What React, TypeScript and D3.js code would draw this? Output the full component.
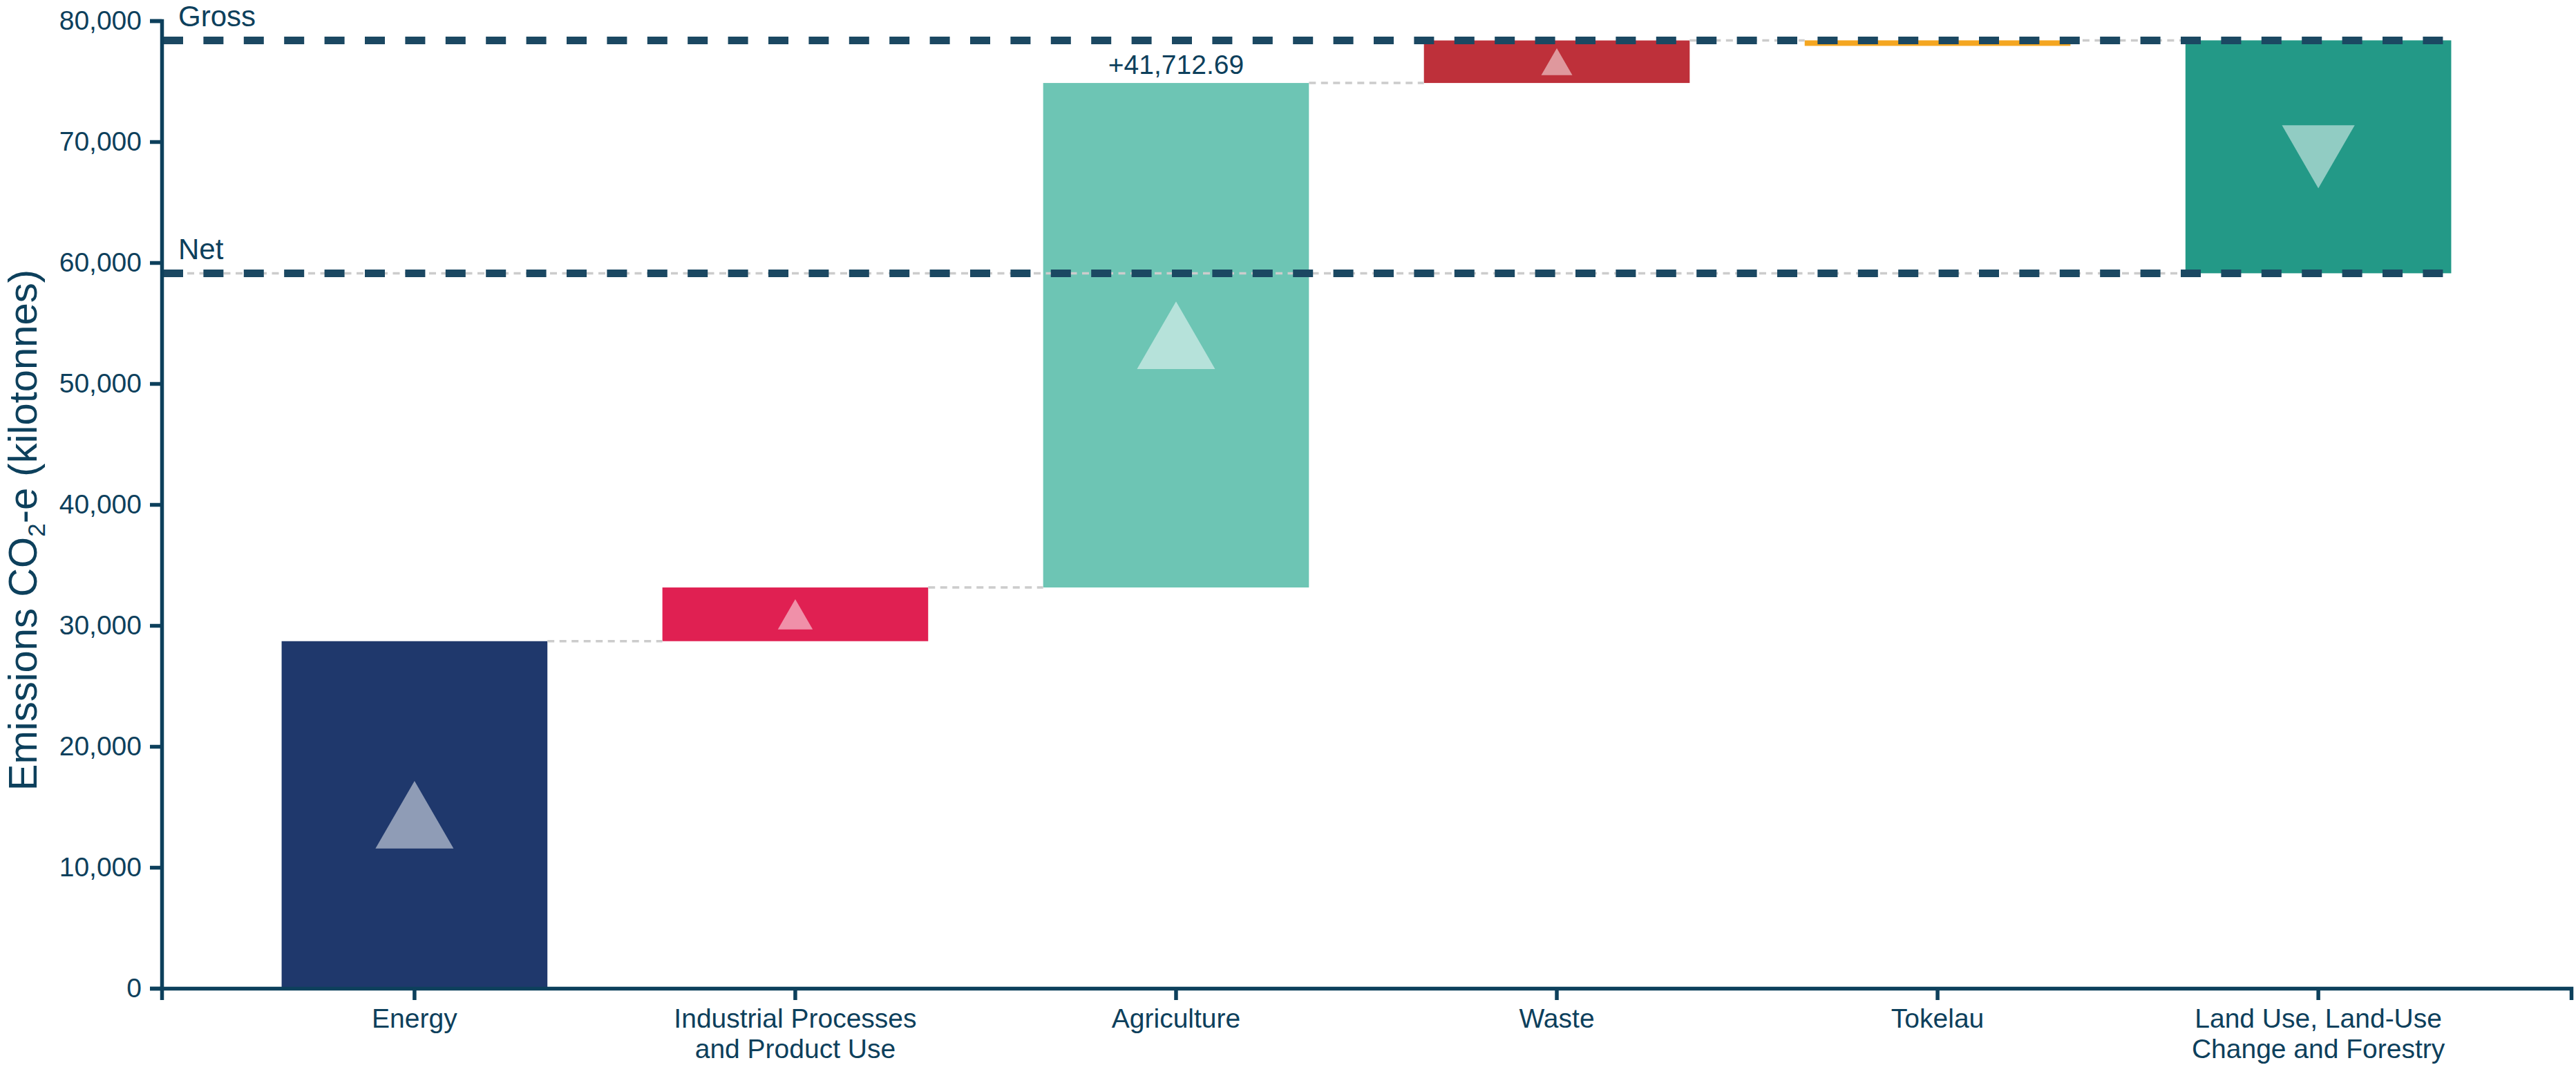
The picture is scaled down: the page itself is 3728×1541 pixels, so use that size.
import React, { useEffect, useRef } from "react";
import * as d3 from "d3";

// ---- data ----
const categories = [
  "Energy",
  "Industrial Processes and Product Use",
  "Agriculture",
  "Waste",
  "Tokelau",
  "Land Use, Land-Use Change and Forestry",
];
const categoryLines: string[][] = [
  ["Energy"],
  ["Industrial Processes", "and Product Use"],
  ["Agriculture"],
  ["Waste"],
  ["Tokelau"],
  ["Land Use, Land-Use", "Change and Forestry"],
];
const values = [28700, 4440, 41712.69, 3517, 8, -19258];
const barColors = ["#1f386c", "#e02052", "#6dc5b4", "#be303a", "#f4a621", "#239987"];
const yTicks = [0, 10000, 20000, 30000, 40000, 50000, 60000, 70000, 80000];
const labelledCategory = "Agriculture";
const refLineLabels = ["Gross", "Net"];

const W = 3728;
const H = 1541;
const INK = "#0d405c";
const DASH = "#1b4862";
const FONT = "'Liberation Sans', Arial, sans-serif";

export default function App() {
  const ref = useRef<SVGSVGElement>(null);

  useEffect(() => {
    const svg = d3.select(ref.current);
    svg.selectAll("*").remove();

    const x = d3
      .scaleBand<string>()
      .domain(categories)
      .range([234, 3721])
      .paddingInner(0.302)
      .paddingOuter(0.315);
    const y = d3.scaleLinear().domain([0, 80000]).range([1430, 30]);
    const side = d3.scaleSqrt().domain([0, 22200]).range([0, 113]).clamp(true);
    const bw = x.bandwidth();

    let run = 0;
    const steps = values.map((v, i) => {
      const start = run;
      run += v;
      return { cat: categories[i], v, start, end: run, color: barColors[i] };
    });
    const gross = steps.filter((s) => s.v > 0).reduce((a, s) => a + s.v, 0);
    const net = run;

    // bars
    svg
      .append("g")
      .selectAll("rect")
      .data(steps)
      .join("rect")
      .attr("x", (d) => x(d.cat)!)
      .attr("y", (d) => y(Math.max(d.start, d.end)))
      .attr("width", bw)
      .attr("height", (d) => Math.max(Math.abs(y(d.start) - y(d.end)), 8))
      .attr("fill", (d) => d.color);

    // grey connectors
    const conn = svg.append("g").attr("stroke", "#cccccc").attr("stroke-width", 3.5).attr("stroke-dasharray", "10 7.5");
    steps.slice(0, -1).forEach((s, i) => {
      conn
        .append("line")
        .attr("x1", x(s.cat)! + bw)
        .attr("x2", x(steps[i + 1].cat)!)
        .attr("y1", y(s.end))
        .attr("y2", y(s.end));
    });
    conn
      .append("line")
      .attr("x1", 236)
      .attr("x2", x(steps[steps.length - 1].cat)!)
      .attr("y1", y(net))
      .attr("y2", y(net));

    // triangles
    svg
      .append("g")
      .selectAll("path")
      .data(steps.filter((s) => Math.abs(s.v) > 100))
      .join("path")
      .attr("fill", "#ffffff")
      .attr("fill-opacity", 0.5)
      .attr("d", (d) => {
        const s = side(Math.abs(d.v));
        const h = (s * Math.sqrt(3)) / 2;
        const cx = x(d.cat)! + bw / 2;
        const cy = (y(d.start) + y(d.end)) / 2;
        const p = d3.path();
        if (d.v >= 0) {
          p.moveTo(cx, cy - h / 2);
          p.lineTo(cx + s / 2, cy + h / 2);
          p.lineTo(cx - s / 2, cy + h / 2);
        } else {
          p.moveTo(cx - s / 2, cy - h / 2);
          p.lineTo(cx + s / 2, cy - h / 2);
          p.lineTo(cx, cy + h / 2);
        }
        p.closePath();
        return p.toString();
      });

    // gross / net reference lines
    const lastRight = x(steps[steps.length - 1].cat)! + bw;
    [gross, net].forEach((v, i) => {
      svg
        .append("line")
        .attr("x1", 236)
        .attr("x2", lastRight)
        .attr("y1", y(v))
        .attr("y2", y(v))
        .attr("stroke", DASH)
        .attr("stroke-width", 11)
        .attr("stroke-dasharray", "29 29.4");
      svg
        .append("text")
        .attr("x", 258)
        .attr("y", y(v) - 20)
        .attr("font-family", FONT)
        .attr("font-size", 42)
        .attr("fill", INK)
        .text(refLineLabels[i]);
    });

    // value label
    const ls = steps.find((s) => s.cat === labelledCategory)!;
    svg
      .append("text")
      .attr("x", x(ls.cat)! + bw / 2)
      .attr("y", y(Math.max(ls.start, ls.end)) - 13)
      .attr("text-anchor", "middle")
      .attr("font-family", FONT)
      .attr("font-size", 39)
      .attr("fill", INK)
      .text(d3.format("+,.2f")(ls.v));

    // axes
    const yg = svg
      .append("g")
      .attr("transform", "translate(234,0)")
      .call(d3.axisLeft(y).tickValues(yTicks).tickFormat(d3.format(",") as any).tickSize(17).tickPadding(12));
    const xg = svg
      .append("g")
      .attr("transform", "translate(0,1430)")
      .call(d3.axisBottom(x).tickSize(17).tickPadding(12));
    [yg, xg].forEach((g) => {
      g.attr("font-size", 39).attr("font-family", FONT);
      g.selectAll("path, line").attr("stroke", INK).attr("stroke-width", 5.5);
      g.selectAll("text").attr("fill", INK);
    });
    xg.selectAll<SVGTextElement, string>("text").each(function (d) {
      const lines = categoryLines[categories.indexOf(d)];
      const t = d3.select(this);
      t.text(null).attr("dy", null);
      lines.forEach((l, i) => {
        t.append("tspan")
          .attr("x", 0)
          .attr("dy", i === 0 ? "0.71em" : 44)
          .text(l);
      });
    });

    // y title
    const title = svg
      .append("text")
      .attr("transform", "translate(53,767) rotate(-90)")
      .attr("text-anchor", "middle")
      .attr("font-family", FONT)
      .attr("font-size", 58)
      .attr("fill", INK);
    title.append("tspan").text("Emissions CO");
    title.append("tspan").attr("font-size", 35).attr("dy", 12).text("2");
    title.append("tspan").attr("dy", -12).text("-e (kilotonnes)");
  }, []);

  return (
    <svg
      ref={ref}
      width={W}
      height={H}
      style={{ position: "absolute", left: 0, top: 0, background: "#ffffff" }}
    />
  );
}
